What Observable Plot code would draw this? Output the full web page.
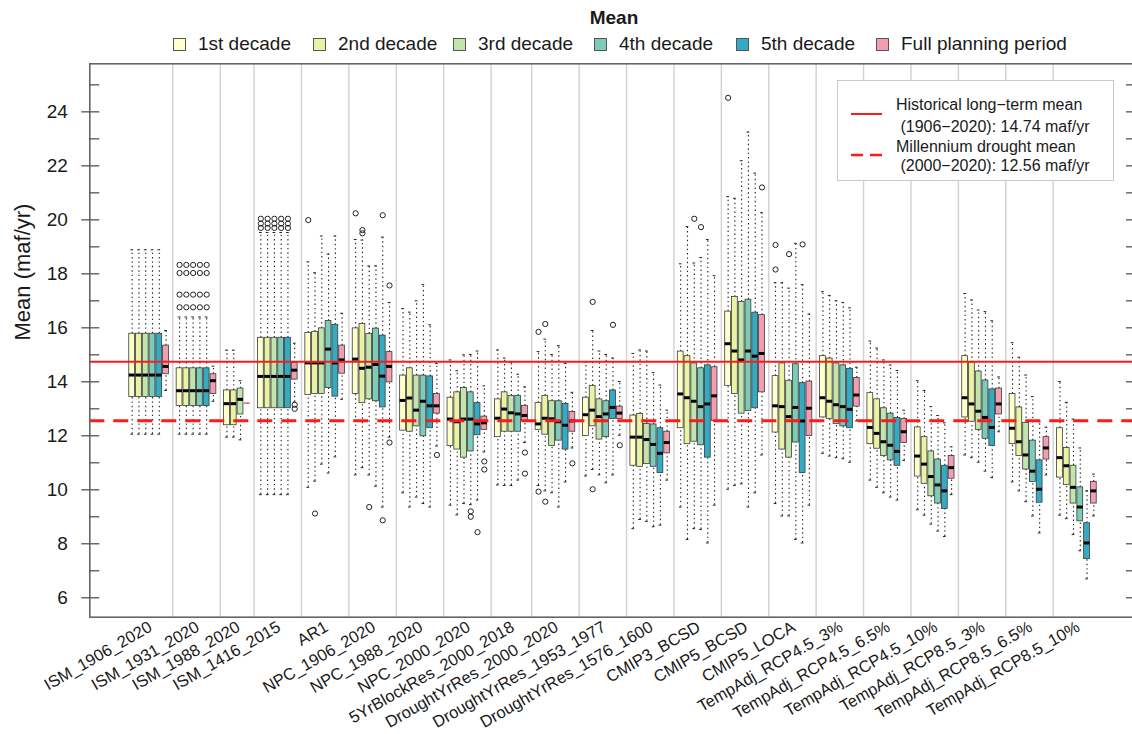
<!DOCTYPE html>
<html><head><meta charset="utf-8">
<script src="https://cdn.jsdelivr.net/npm/d3@7"></script>
<script src="https://cdn.jsdelivr.net/npm/@observablehq/plot@0.6"></script>
<style>
body{margin:0;background:#fff;font-family:"Liberation Sans",Arial,Helvetica,sans-serif;color:#1a1a1a;}
#wrap{position:relative;width:1132px;height:734px;overflow:hidden;background:#fff;}
#header{position:relative;height:50px;}
#title{position:absolute;top:7px;left:614px;transform:translateX(-50%);font-weight:bold;font-size:19px;line-height:22px;}
.item{position:absolute;top:34px;height:20px;display:flex;align-items:center;font-size:19px;white-space:nowrap;}
.sw{width:11px;height:11px;border:1px solid #555;margin-right:12px;}
#lineLegend{position:absolute;left:837px;top:80px;}
</style></head><body>
<div id="wrap">
  <div id="header"><div id="title">Mean</div></div>
  <div id="chart"></div>
  <svg id="lineLegend" width="277" height="101"></svg>
</div>
<script>
// ---------- data ----------
const groups = ["ISM_1906_2020","ISM_1931_2020","ISM_1988_2020","ISM_1416_2015","AR1","NPC_1906_2020","NPC_1988_2020","NPC_2000_2020","5YrBlockRes_2000_2018","DroughtYrRes_2000_2020","DroughtYrRes_1953_1977","DroughtYrRes_1576_1600","CMIP3_BCSD","CMIP5_BCSD","CMIP5_LOCA","TempAdj_RCP4.5_3%","TempAdj_RCP4.5_6.5%","TempAdj_RCP4.5_10%","TempAdj_RCP8.5_3%","TempAdj_RCP8.5_6.5%","TempAdj_RCP8.5_10%"];
const seriesNames = ["1st decade","2nd decade","3rd decade","4th decade","5th decade","Full planning period"];
const seriesColors = ["#ffffcc","#e9f3a3","#c2e5ae","#7dccb9","#35aac3","#f39db2"];
const all6 = [0,1,2,3,4,5];
// which series appear in each group
const seriesInGroup = [all6,all6,[0,1,2,5],all6,all6,all6,all6,all6,[0,1,2,3,5],all6,all6,all6,all6,all6,all6,all6,all6,all6,all6,all6,all6];
const whiskerLow = [
 [12.06,12.06,12.06,12.06,12.06,13.68],[12.06,12.06,12.06,12.06,12.06,13.28],[11.95,11.95,11.85,13.21],
 [9.82,9.82,9.82,9.82,9.82,13.25],[10.09,10.32,10.95,10.62,11.22,13.35],[10.55,10.82,10.55,10.13,9.36,11.95],
 [9.89,9.36,9.73,9.49,9.36,11.62],[9.43,9.07,9.49,9.45,9.62,11.4],[10.18,10.16,10.16,10.36,11.75],
 [10.16,9.96,9.89,9.36,10.29,11.55],[10.51,10.75,10.55,10.26,10.55,12.02],[8.56,8.9,8.83,8.63,8.69,10.36],
 [9.36,8.16,8.56,8.53,8.03,9.43],[10.02,10.16,10.22,9.36,9.89,11.29],[9.49,9.03,9.03,8.16,8.03,9.43],
 [11.35,11.25,11.19,11.15,11.02,12.55],[10.36,10.09,9.89,9.73,9.62,11.09],[9.26,9.06,8.73,8.47,8.27,9.82],
 [11.29,11.19,11.02,10.69,10.45,12.15],[10.29,9.96,9.56,9.03,8.4,10.55],[9.06,8.93,8.34,7.74,6.7,9.03]];
const quartile1 = [
 [13.44,13.44,13.44,13.44,13.44,14.28],[13.1,13.1,13.1,13.1,13.1,13.55],[12.39,12.39,12.79,13.21],
 [13.02,13.02,13.02,13.02,13.02,14.08],[13.51,13.55,13.55,13.77,13.45,14.3],[13.55,13.21,13.35,13.28,13.05,13.98],
 [12.19,12.15,12.35,11.98,12.28,12.82],[11.62,11.49,11.19,11.42,12.02,12.22],[11.95,12.15,12.15,12.15,12.55],
 [12.22,12.04,11.62,11.82,11.49,12.15],[11.99,12.35,11.86,11.95,12.62,12.62],[10.89,10.85,10.95,10.85,10.62,11.35],
 [12.28,11.69,11.78,11.65,11.19,12.55],[13.85,13.55,12.82,12.92,13.02,13.61],[12.12,11.49,11.19,11.75,10.62,11.99],
 [12.68,12.62,12.44,12.35,12.28,13.08],[11.69,11.52,11.25,11.09,10.89,11.73],[10.49,10.22,9.76,9.49,9.29,10.41],
 [12.68,12.52,12.22,11.89,11.62,12.79],[11.69,11.25,10.75,10.29,9.52,11.12],[10.45,10.18,9.49,8.83,7.43,9.49]];
const medians = [
 [14.25,14.25,14.25,14.25,14.25,14.57],[13.67,13.67,13.67,13.67,13.67,14.04],[13.19,13.19,13.35,13.21],
 [14.2,14.2,14.2,14.2,14.2,14.43],[14.7,14.7,14.7,15.21,14.7,14.81],[14.84,14.5,14.54,14.64,14.21,14.57],
 [13.31,13.4,12.95,13.28,13.11,13.11],[12.62,12.52,12.62,12.62,12.44,12.48],[12.65,12.99,12.85,12.81,12.75],
 [12.44,12.65,12.63,12.52,12.39,12.55],[12.78,12.95,12.71,12.81,13.05,12.84],[11.95,11.95,11.86,11.68,11.35,11.75],
 [13.55,13.41,13.28,13.08,13.18,13.48],[15.41,15.14,14.81,15.14,14.95,15.05],[13.11,13.08,12.71,13.05,12.55,13.02],
 [13.41,13.28,13.15,13.08,12.98,13.51],[12.31,12.09,11.78,11.65,11.42,12.15],[11.25,10.95,10.49,10.18,9.96,10.82],
 [13.41,13.18,12.91,12.68,12.31,13.18],[12.28,11.78,11.29,10.69,10.02,11.55],[11.19,10.89,10.09,9.36,8.03,9.96]];
const quartile3 = [
 [15.78,15.78,15.78,15.78,15.78,15.34],[14.5,14.5,14.5,14.5,14.5,14.28],[13.68,13.68,13.75,13.21],
 [15.63,15.63,15.63,15.63,15.63,14.7],[15.81,15.85,15.98,16.25,16.11,15.34],[15.98,16.14,15.77,15.97,15.71,15.1],
 [14.23,14.5,14.23,14.23,14.2,13.55],[13.41,13.61,13.77,13.61,13.21,12.71],[13.35,13.61,13.48,13.48,13.11],
 [13.21,13.48,13.28,13.28,13.18,12.88],[13.41,13.85,13.35,13.28,13.68,13.08],[12.75,12.81,12.44,12.42,12.28,12.15],
 [15.12,14.95,14.68,14.5,14.61,14.54],[16.6,17.14,16.96,17.04,16.56,16.47],[14.21,14.68,14.04,14.65,13.95,14.01],
 [14.95,14.86,14.68,14.61,14.48,14.14],[13.58,13.35,13.02,12.82,12.66,12.62],[12.31,11.95,11.42,11.12,10.89,11.25],
 [14.95,14.71,14.38,14.05,13.72,13.75],[13.55,13.05,12.48,11.82,11.09,11.95],[12.28,11.55,10.89,10.09,8.76,10.29]];
const whiskerHigh = [
 [18.89,18.89,18.89,18.89,18.89,15.9],[16.4,16.4,16.4,16.4,16.4,14.58],[15.17,15.17,14.04,13.21],
 [19.53,19.53,19.53,19.53,19.53,15.43],[18.44,18.04,19.4,18.73,19.4,16.54],[19.27,19.25,18.29,18.29,19.36,16.94],
 [16.71,16.58,17.0,17.6,16.11,14.68],[14.81,14.41,15.0,15.01,15.14,13.85],[15.18,14.88,14.71,14.28,13.81],
 [15.12,15.58,15.01,15.34,14.68,13.61],[14.74,15.9,15.14,15.01,14.88,14.01],[15.05,15.18,15.14,14.34,13.88,12.95],
 [18.37,19.75,18.4,18.6,19.27,17.93],[20.86,20.8,22.19,23.25,21.73,20.26],[17.67,17.67,17.47,19.13,17.6,16.51],
 [17.34,17.2,17.0,16.94,16.74,14.54],[15.51,15.25,14.81,14.62,14.42,12.95],[14.04,13.68,13.08,12.75,12.48,11.59],
 [17.27,17.03,16.66,16.6,16.26,14.18],[15.45,14.91,14.25,13.45,12.52,12.32],[14.01,13.24,12.62,11.55,9.96,10.58]];
// outliers: [group index, box indices within group, values]
const outliers = [
 [1,[0,1,2,3,4],[16.76,17.23,18.03,18.33]],
 [3,[0,1,2,3,4],[19.7,19.86,20.04]],
 [3,[5],[13.15,13.0]],
 [4,[0],[19.99]],[4,[1],[9.12]],
 [5,[0],[20.24]],[5,[1],[19.5,19.62]],[5,[2],[9.36]],[5,[4],[20.17,8.87]],[5,[5],[17.57,11.75]],
 [6,[5],[11.29]],
 [7,[3],[9.2,9.0]],[7,[4],[8.43]],[7,[5],[11.05,10.75]],
 [8,[4],[11.38,10.6]],
 [9,[0],[15.85,9.93]],[9,[1],[16.14,9.56]],[9,[5],[10.98]],
 [10,[1],[16.96,10.02]],[10,[4],[16.11]],[10,[5],[11.65]],
 [12,[2],[20.04]],[12,[3],[19.73]],
 [13,[0],[24.52]],[13,[5],[21.2]],
 [14,[0],[19.07,18.16]],[14,[2],[18.73]],[14,[4],[19.09]]
];
const historicalMean = 14.74;
const droughtMean = 12.56;
const majorTicks = [6,8,10,12,14,16,18,20,22,24];
const minorTicks = [7,9,11,13,15,17,19,21,23,25];
const legendLines = ["Historical long\u2212term mean"," (1906\u22122020): 14.74 maf/yr","Millennium drought mean"," (2000\u22122020): 12.56 maf/yr"];

// ---------- build table ----------
const boxes = [], separators = [], centers = [];
let pos = 0;
groups.forEach((g, gi) => {
  const start = pos + 1;
  seriesInGroup[gi].forEach((s, bi) => {
    pos++;
    boxes.push({group: g, gi, bi, x: pos, series: seriesNames[s],
      lo: whiskerLow[gi][bi], q1: quartile1[gi][bi], med: medians[gi][bi],
      q3: quartile3[gi][bi], hi: whiskerHigh[gi][bi]});
  });
  centers.push({group: g, x: (start + pos) / 2});
  pos++;
  if (gi < groups.length - 1) separators.push(pos);
});
const outlierRows = [];
outliers.forEach(([gi, bis, vals]) => bis.forEach(bi => {
  const b = boxes.find(d => d.gi === gi && d.bi === bi);
  vals.forEach(v => outlierRows.push({x: b.x, v}));
}));
const solidBoxes = boxes.filter(d => d.q3 > d.q1);
const flatBoxes = boxes.filter(d => d.q3 <= d.q1);

// ---------- header legend ----------
const header = document.getElementById("header");
const itemLeft = [173, 313, 453, 594, 736, 876];
seriesNames.forEach((s, i) => {
  const it = document.createElement("div");
  it.className = "item";
  it.style.left = itemLeft[i] + "px";
  it.innerHTML = `<span class="sw" style="background:${seriesColors[i]}"></span><span>${s}</span>`;
  header.appendChild(it);
});

// ---------- chart ----------
const hw = 0.43;
const noText = () => "";
const chart = Plot.plot({
  width: 1132, height: 684,
  marginTop: 13.3, marginBottom: 117.3, marginLeft: 89.3, marginRight: -1,
  style: {fontFamily: "'Liberation Sans', Arial, sans-serif", color: "#1a1a1a", background: "white"},
  x: {type: "linear", domain: [-5.257, 148.86], axis: null},
  y: {domain: [5.28, 25.78], axis: null},
  color: {domain: seriesNames, range: seriesColors},
  marks: [
    Plot.ruleX(separators, {stroke: "#d4d4d4", strokeWidth: 1.5}),
    Plot.ruleX(boxes, {x: "x", y1: "lo", y2: "q1", stroke: "#222", strokeWidth: 1.1, strokeDasharray: "1.4,3"}),
    Plot.ruleX(boxes, {x: "x", y1: "q3", y2: "hi", stroke: "#222", strokeWidth: 1.1, strokeDasharray: "1.4,3"}),
    Plot.ruleY(boxes.filter(d => d.hi > d.q3), {y: "hi", x1: d => d.x - 0.2, x2: d => d.x + 0.2, stroke: "#222"}),
    Plot.ruleY(boxes.filter(d => d.lo < d.q1), {y: "lo", x1: d => d.x - 0.2, x2: d => d.x + 0.2, stroke: "#222"}),
    Plot.rect(solidBoxes, {x1: d => d.x - hw, x2: d => d.x + hw, y1: "q1", y2: "q3", fill: "series", stroke: "#3a3a3a", strokeWidth: 0.8}),
    Plot.ruleY(solidBoxes, {y: "med", x1: d => d.x - hw, x2: d => d.x + hw, stroke: "#000", strokeWidth: 3}),
    Plot.ruleY(flatBoxes, {y: "med", x1: d => d.x - hw, x2: d => d.x + hw, stroke: "#e0607e", strokeWidth: 1.5}),
    Plot.dot(outlierRows, {x: "x", y: "v", r: 2.6, stroke: "#222", strokeWidth: 1, fill: "none"}),
    Plot.ruleY([historicalMean], {stroke: "#ff1a1a", strokeWidth: 2}),
    Plot.ruleY([droughtMean], {stroke: "#ff1a1a", strokeWidth: 3, strokeDasharray: "15,9"}),
    Plot.frame({stroke: "#666", strokeWidth: 1.6}),
    Plot.axisY({ticks: majorTicks, tickSize: 18, dx: 10, tickFormat: noText, label: null, stroke: "#555", strokeWidth: 1.3}),
    Plot.axisY({ticks: minorTicks, tickSize: 10, dx: 10, tickFormat: noText, label: null, stroke: "#555", strokeWidth: 1.3}),
    Plot.axisY({anchor: "right", ticks: majorTicks.concat(minorTicks), tickSize: 7, dx: -8, tickFormat: noText, label: null, stroke: "#555", strokeWidth: 1.3}),
    Plot.axisY({ticks: majorTicks, tickSize: 0, tickPadding: 22, fontSize: 19, label: null, fill: "#1a1a1a"}),
    Plot.text(["Mean (maf/yr)"], {frameAnchor: "left", rotate: -90, dx: -67, fontSize: 22, fill: "#1a1a1a"}),
    Plot.text(centers, {x: "x", frameAnchor: "bottom", text: "group", rotate: -30, textAnchor: "end", dx: 4, dy: 13, fontSize: 16.5, fill: "#1a1a1a"})
  ]
});
document.getElementById("chart").appendChild(chart);

// ---------- reference-line legend ----------
const lg = d3.select("#lineLegend");
lg.append("rect").attr("x", 0.5).attr("y", 0.5).attr("width", 276).attr("height", 100)
  .attr("fill", "white").attr("stroke", "#c8c8c8");
lg.append("line").attr("x1", 14).attr("x2", 45).attr("y1", 34).attr("y2", 34)
  .attr("stroke", "#ff1a1a").attr("stroke-width", 2);
lg.append("line").attr("x1", 14).attr("x2", 45).attr("y1", 75).attr("y2", 75)
  .attr("stroke", "#ff1a1a").attr("stroke-width", 2.5).attr("stroke-dasharray", "12,7");
const ly = [30, 51.5, 71.5, 91];
legendLines.forEach((t, i) => {
  lg.append("text").attr("x", 59).attr("y", ly[i]).attr("font-size", 16)
    .attr("font-family", "'Liberation Sans', Arial, sans-serif").attr("fill", "#1a1a1a")
    .attr("xml:space", "preserve").style("white-space", "pre").text(t);
});
</script>
</body></html>
